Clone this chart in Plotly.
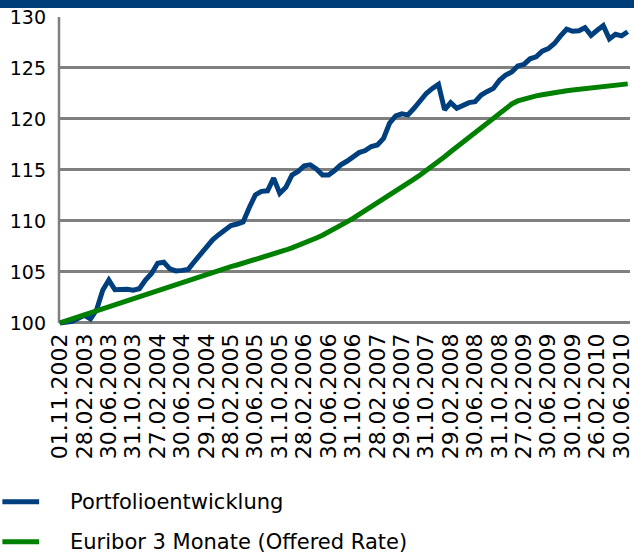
import plotly.graph_objects as go

# ---------------- data ----------------
tick_labels = ["01.11.2002", "28.02.2003", "30.06.2003", "31.10.2003", "27.02.2004",
               "30.06.2004", "29.10.2004", "28.02.2005", "30.06.2005", "31.10.2005",
               "28.02.2006", "30.06.2006", "31.10.2006", "28.02.2007", "29.06.2007",
               "31.10.2007", "29.02.2008", "30.06.2008", "31.10.2008", "27.02.2009",
               "30.06.2009", "30.10.2009", "26.02.2010", "30.06.2010"]
tick_step = 4  # one label every 4 monthly points

series_names = ["Portfolioentwicklung", "Euribor 3 Monate (Offered Rate)"]

portfolio = [100.0, 100.05, 100.15, 100.45, 100.75, 100.4, 101.3, 103.2, 104.2, 103.25,
             103.3, 103.3, 103.2, 103.35, 104.2, 104.85, 105.85, 105.95, 105.3, 105.1,
             105.15, 105.25, 106.0, 106.7, 107.5, 108.15, 108.65, 109.1, 109.55, 109.7,
             109.9, 111.3, 112.55, 112.9, 112.95, 114.2, 112.7, 113.3, 114.5, 114.85,
             115.4, 115.5, 115.1, 114.5, 114.5, 114.95, 115.5, 115.85, 116.25, 116.7,
             116.9, 117.3, 117.45, 118.1, 119.6, 120.3, 120.5, 120.4, 121.05, 121.8,
             122.5, 123.0, 123.4, 120.9, 121.6, 121.05, 121.35, 121.6, 121.7, 122.35,
             122.7, 123.0, 123.8, 124.3, 124.6, 125.2, 125.35, 125.9, 126.1, 126.65,
             126.9, 127.4, 128.15, 128.8, 128.6, 128.65, 128.95, 128.2, 128.7, 129.15,
             127.85, 128.3, 128.15, 128.55]

euribor = [100.0, 100.2, 100.4, 100.6, 100.8, 101.0, 101.2, 101.41, 101.61, 101.81,
           102.01, 102.21, 102.41, 102.61, 102.81, 103.01, 103.21, 103.41, 103.61, 103.82,
           104.02, 104.22, 104.42, 104.62, 104.82, 105.02, 105.18, 105.35, 105.52, 105.68,
           105.85, 106.02, 106.2, 106.39, 106.57, 106.76, 106.95, 107.15, 107.36, 107.58,
           107.82, 108.07, 108.33, 108.6, 108.9, 109.22, 109.55, 109.9, 110.26, 110.63,
           111.01, 111.39, 111.77, 112.15, 112.54, 112.92, 113.31, 113.7, 114.1, 114.51,
           114.93, 115.37, 115.83, 116.3, 116.78, 117.26, 117.74, 118.23, 118.72, 119.21,
           119.7, 120.18, 120.65, 121.09, 121.47, 121.77, 121.98, 122.14, 122.27, 122.38,
           122.5, 122.6, 122.69, 122.77, 122.83, 122.89, 122.95, 123.02, 123.09, 123.16,
           123.23, 123.3, 123.37, 123.44]

y_ticks = [100, 105, 110, 115, 120, 125, 130]

# ---------------- styles ----------------
BLUE = "#003F7D"
GREEN = "#008000"
GRID = "#808080"
BAR = "#003E79"
FONT = "DejaVu Sans, Liberation Sans, Arial, sans-serif"
colors = [BLUE, GREEN]

W, H = 634, 553
ML, MT = 59, 17
PLOT_W = W - ML
Y_LO, Y_HI = 99.5, 130
PX_PER_UNIT = 10.2
PLOT_H = (Y_HI - Y_LO) * PX_PER_UNIT
MB = H - MT - PLOT_H
PX_PER_MONTH = 6.147
X_LO = -1.0 / PX_PER_MONTH
X_HI = X_LO + PLOT_W / PX_PER_MONTH

def px_to_paper_x(px):
    return (px - ML) / PLOT_W

def px_to_paper_y(py):
    return (MT + PLOT_H - py) / PLOT_H

x = list(range(len(portfolio)))
tickvals = [i * tick_step for i in range(len(tick_labels))]

fig = go.Figure()
for name, vals, col in zip(series_names, [portfolio, euribor], colors):
    fig.add_trace(go.Scatter(x=x, y=vals, mode="lines", name=name,
                             line=dict(color=col, width=5), showlegend=False,
                             hoverinfo="skip"))

shapes = [
    # top dark band
    dict(type="rect", xref="paper", yref="paper",
         x0=px_to_paper_x(-10), x1=px_to_paper_x(W + 10),
         y0=px_to_paper_y(8), y1=px_to_paper_y(-10),
         fillcolor=BAR, line=dict(width=0), layer="above"),
    # y axis line
    dict(type="line", xref="paper", yref="y", x0=0, x1=0, y0=100, y1=130,
         line=dict(color=GRID, width=2.5), layer="below"),
]
annotations = []
legend_rows = [502, 542]
for name, col, row in zip(series_names, colors, legend_rows):
    shapes.append(dict(type="line", xref="paper", yref="paper",
                       x0=px_to_paper_x(2), x1=px_to_paper_x(39),
                       y0=px_to_paper_y(row), y1=px_to_paper_y(row),
                       line=dict(color=col, width=5)))
    annotations.append(dict(text=name, xref="paper", yref="paper",
                            x=px_to_paper_x(68), y=px_to_paper_y(row),
                            xanchor="left", yanchor="middle", showarrow=False,
                            font=dict(family=FONT, size=21, color="#000000")))

fig.update_layout(
    width=W, height=H,
    margin=dict(l=ML, r=0, t=MT, b=MB, pad=0),
    plot_bgcolor="white", paper_bgcolor="white",
    showlegend=False,
    font=dict(family=FONT, size=20, color="#000000"),
    shapes=shapes, annotations=annotations,
    xaxis=dict(range=[X_LO, X_HI], tickmode="array", tickvals=tickvals,
               ticktext=tick_labels, tickangle=-90, showgrid=False,
               zeroline=False, showline=False, ticks="",
               ticklabeloverflow="allow",
               tickfont=dict(family=FONT, size=22, color="#000000")),
    yaxis=dict(range=[Y_LO, Y_HI], tickmode="array", tickvals=y_ticks,
               showgrid=True, gridcolor=GRID, gridwidth=2.5,
               zeroline=False, showline=False, ticks="",
               ticklabelstandoff=12, ticklabeloverflow="allow",
               tickfont=dict(family=FONT, size=19, color="#000000")),
)

fig.write_html("out.html", config={"displayModeBar": False},
               post_script="document.body.style.margin='0';document.body.style.padding='0';")
